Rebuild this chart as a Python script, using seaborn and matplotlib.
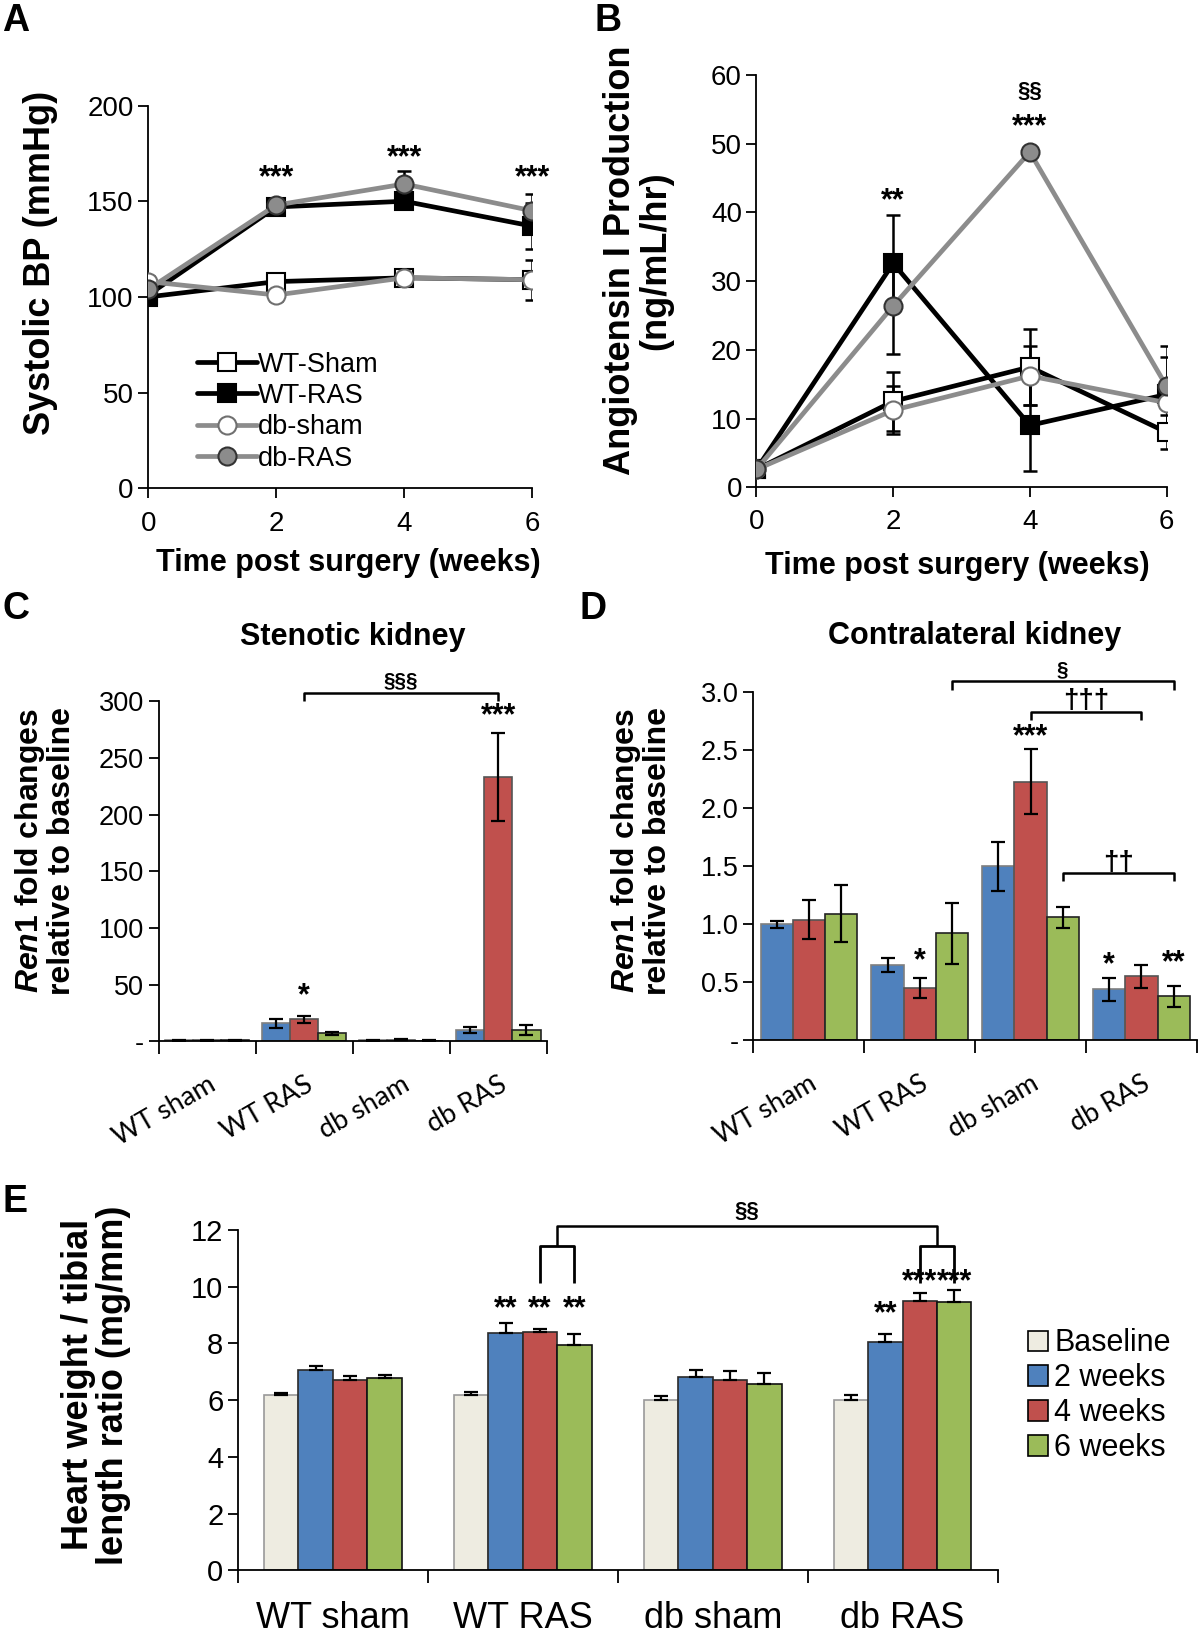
import numpy as np
import pandas as pd
import matplotlib
matplotlib.use('Agg')
import matplotlib.pyplot as plt
import seaborn as sns
from matplotlib.lines import Line2D

sns.set_theme(style='ticks')
plt.rcParams['font.family'] = ['Liberation Sans', 'DejaVu Sans']
plt.rcParams['mathtext.fontset'] = 'custom'
plt.rcParams['mathtext.it'] = 'Liberation Sans:italic:bold'
plt.rcParams['mathtext.rm'] = 'Liberation Sans:bold'
plt.rcParams['axes.edgecolor'] = 'black'
plt.rcParams['xtick.color'] = 'black'
plt.rcParams['ytick.color'] = 'black'
plt.rcParams['text.color'] = 'black'
plt.rcParams['axes.labelcolor'] = 'black'

# ---- data ----
weeks = [0, 2, 4, 6]
line_names = ['WT-Sham', 'WT-RAS', 'db-sham', 'db-RAS']

# A: systolic BP
bp_wt_sham = [100, 108, 110, 109]
bp_wt_sham_err = [2, 3, 3, 10.5]
bp_wt_ras = [101, 147, 150, 137]
bp_wt_ras_err = [2, 3, 3, 12]
bp_db_sham = [108, 101, 110, 109]
bp_db_sham_err = [3, 3, 2, 3]
bp_db_ras = [104, 148, 159, 145]
bp_db_ras_err = [2, 2, 7, 9]

# B: angiotensin I production
ang_wt_sham = [2.6, 12.5, 17.5, 8.0]
ang_wt_sham_err = [0.3, 4.3, 5.5, 2.5]
ang_wt_ras = [2.6, 32.6, 9.0, 13.5]
ang_wt_ras_err = [0.3, 7.0, 6.7, 5.5]
ang_db_sham = [2.6, 11.2, 16.2, 12.3]
ang_db_sham_err = [0.3, 3.5, 4.3, 3.0]
ang_db_ras = [2.6, 26.4, 48.8, 14.7]
ang_db_ras_err = [0.3, 7.0, 0.5, 5.8]

groups = ['WT sham', 'WT RAS', 'db sham', 'db RAS']
times3 = ['2 weeks', '4 weeks', '6 weeks']
times4 = ['Baseline', '2 weeks', '4 weeks', '6 weeks']

# C: stenotic kidney Ren1
c_2w = [1.0, 16.0, 1.0, 10.0]
c_2w_err = [0.3, 4.0, 0.3, 3.0]
c_4w = [1.0, 19.5, 1.5, 233.0]
c_4w_err = [0.3, 3.0, 0.5, 39.0]
c_6w = [1.0, 7.0, 0.7, 10.0]
c_6w_err = [0.3, 1.5, 0.3, 4.0]

# D: contralateral kidney Ren1
d_2w = [1.0, 0.65, 1.50, 0.44]
d_2w_err = [0.03, 0.06, 0.21, 0.10]
d_4w = [1.04, 0.45, 2.23, 0.55]
d_4w_err = [0.165, 0.085, 0.28, 0.10]
d_6w = [1.09, 0.92, 1.06, 0.38]
d_6w_err = [0.245, 0.26, 0.09, 0.09]

# E: heart weight / tibial length
e_base = [6.17, 6.17, 6.00, 6.00]
e_base_err = [0.10, 0.12, 0.15, 0.18]
e_2w = [7.08, 8.37, 6.82, 8.05]
e_2w_err = [0.12, 0.35, 0.23, 0.28]
e_4w = [6.70, 8.40, 6.70, 9.50]
e_4w_err = [0.14, 0.11, 0.33, 0.28]
e_6w = [6.77, 7.95, 6.58, 9.45]
e_6w_err = [0.13, 0.38, 0.38, 0.45]

BASE = '#EEECE1'
BLUE = '#4F81BD'
RED = '#C0504D'
GREEN = '#9BBB59'
GRAY = '#8c8c8c'

fig = plt.figure(figsize=(12, 16.36), dpi=100)

axA = fig.add_axes([0.1235, 0.7015, 0.32, 0.234])
axB = fig.add_axes([0.6304, 0.7022, 0.3417, 0.2519])
axC = fig.add_axes([0.1322, 0.3635, 0.3235, 0.2079])
axD = fig.add_axes([0.6278, 0.3642, 0.3696, 0.2127])
axE = fig.add_axes([0.1983, 0.0402, 0.633, 0.2079])

line_styles = {
    'WT-Sham': dict(color='black', marker='s', mfc='white', mec='black'),
    'WT-RAS': dict(color='black', marker='s', mfc='black', mec='black'),
    'db-sham': dict(color=GRAY, marker='o', mfc='white', mec='#707070'),
    'db-RAS': dict(color=GRAY, marker='o', mfc=GRAY, mec='#333333'),
}

STAR = dict(ha='center', va='center', fontsize=22, fontweight='bold')


def line_panel(ax, series, errs):
    for name, vals, err in zip(line_names, series, errs):
        st = line_styles[name]
        ax.errorbar(weeks, vals, yerr=err, fmt='none', ecolor='black',
                    elinewidth=1.8, capsize=5, capthick=1.8, zorder=2)
        sns.lineplot(x=weeks, y=vals, ax=ax, color=st['color'], lw=3.4,
                     marker=st['marker'], markersize=13, mfc=st['mfc'],
                     mec=st['mec'], mew=1.5, zorder=3, label=name, legend=False)
    ax.set_xlim(0, 6)
    ax.set_xticks(weeks)
    sns.despine(ax=ax)
    for s in ['left', 'bottom']:
        ax.spines[s].set_linewidth(1.3)
    ax.tick_params(axis='both', direction='out', length=7, width=1.3,
                   labelsize=20)
    ax.tick_params(axis='x', pad=9)


# ---- A ----
line_panel(axA, [bp_wt_sham, bp_wt_ras, bp_db_sham, bp_db_ras],
           [bp_wt_sham_err, bp_wt_ras_err, bp_db_sham_err, bp_db_ras_err])
axA.set_ylim(0, 200)
axA.set_yticks([0, 50, 100, 150, 200])
axA.set_ylabel('Systolic BP (mmHg)', fontsize=26, fontweight='bold')
axA.yaxis.set_label_coords(-0.236, 0.59)
axA.set_xlabel('Time post surgery (weeks)', fontsize=22, fontweight='bold')
axA.xaxis.set_label_coords(0.52, -0.155)
for x, y in [(2, 162), (4, 172.5), (6, 162)]:
    axA.text(x, y, '***', **STAR)
handles = [Line2D([], [], lw=3.4, markersize=13, mew=1.5, **line_styles[n]) for n in line_names]
axA.legend(handles, line_names, loc='lower left', bbox_to_anchor=(0.1, 0.015),
           frameon=False, fontsize=19.5, handlelength=2.2, handletextpad=0.05,
           labelspacing=0.2, borderaxespad=0)

# ---- B ----
line_panel(axB, [ang_wt_sham, ang_wt_ras, ang_db_sham, ang_db_ras],
           [ang_wt_sham_err, ang_wt_ras_err, ang_db_sham_err, ang_db_ras_err])
axB.set_ylim(0, 60)
axB.set_yticks(range(0, 61, 10))
axB.set_ylabel('Angiotensin I Production\n(ng/mL/hr)', fontsize=26,
               fontweight='bold', linespacing=1.0)
axB.yaxis.set_label_coords(-0.204, 0.55)
axB.set_xlabel('Time post surgery (weeks)', fontsize=22, fontweight='bold')
axB.xaxis.set_label_coords(0.49, -0.154)
axB.text(2, 41.6, '**', **STAR)
axB.text(4, 52.4, '***', **STAR)
axB.text(4, 57.6, '§§', ha='center', va='center', fontsize=16, fontweight='bold')


def bar_panel(ax, means, errs, hues, colors, edges, width, one_sided, legend):
    rows = []
    for h, vals in zip(hues, means):
        for g, v in zip(groups, vals):
            rows.append({'group': g, 'time': h, 'value': v})
    df = pd.DataFrame(rows)
    sns.barplot(data=df, x='group', y='value', hue='time', order=groups,
                hue_order=hues, palette=colors, errorbar=None, width=width,
                saturation=1, linewidth=1.2, edgecolor='black', ax=ax,
                legend=legend)
    for cont, err, ec in zip(ax.containers, errs, edges):
        xs = [p.get_x() + p.get_width() / 2 for p in cont]
        ys = [p.get_height() for p in cont]
        for p in cont:
            p.set_edgecolor(ec)
        yerr = [np.zeros(len(err)), err] if one_sided else err
        ax.errorbar(xs, ys, yerr=yerr, fmt='none', ecolor='black',
                    elinewidth=1.6, capsize=5, capthick=1.6, zorder=4)
    ax.set_xlim(-0.5, 3.5)
    ax.set_xlabel('')
    sns.despine(ax=ax)
    for s in ['left', 'bottom']:
        ax.spines[s].set_linewidth(1.3)
    ax.set_xticks(range(4))
    ax.set_xticks(np.arange(-0.5, 4, 1), minor=True)
    ax.tick_params(axis='x', which='major', length=0)
    ax.tick_params(axis='x', which='minor', length=9, width=1.3, direction='out')
    ax.tick_params(axis='y', direction='out', length=7, width=1.3)


def bracket(ax, x1, x2, y_top, y_low, lw=1.8):
    ax.plot([x1, x1, x2, x2], [y_low, y_top, y_top, y_low], color='black',
            lw=lw, clip_on=False, solid_capstyle='butt')


ren_label = '$\\mathit{Ren1}$ fold changes\nrelative to baseline'
off = 0.87 / 3

# ---- C ----
bar_panel(axC, [c_2w, c_4w, c_6w], [c_2w_err, c_4w_err, c_6w_err], times3,
          [BLUE, RED, GREEN], ['#7f7f7f', '#555555', '#222222'], 0.87, False, False)
axC.set_ylim(0, 300)
axC.set_yticks(range(0, 301, 50))
axC.set_yticklabels(['-', '50', '100', '150', '200', '250', '300'], fontsize=19.5)
axC.set_xticklabels(groups, rotation=30, ha='right', rotation_mode='anchor',
                    fontsize=19.5, family=['Lato', 'DejaVu Sans'])
axC.tick_params(axis='x', which='major', pad=22)
axC.set_ylabel(ren_label, fontsize=23, fontweight='bold', linespacing=1.0)
axC.yaxis.set_label_coords(-0.21, 0.56)
axC.set_title('Stenotic kidney', fontsize=22, fontweight='bold', y=1.14)
axC.text(1, 40, '*', **STAR)
axC.text(3, 287, '***', **STAR)
bracket(axC, 1, 3, 307, 300)
axC.text(2, 318, '§§§', ha='center', va='center', fontsize=15, fontweight='bold')

# ---- D ----
bar_panel(axD, [d_2w, d_4w, d_6w], [d_2w_err, d_4w_err, d_6w_err], times3,
          [BLUE, RED, GREEN], ['#7f7f7f', '#555555', '#222222'], 0.87, False, False)
axD.set_ylim(0, 3)
axD.set_yticks(np.arange(0, 3.01, 0.5))
axD.set_yticklabels(['-', '0.5', '1.0', '1.5', '2.0', '2.5', '3.0'], fontsize=19.5)
axD.set_xticklabels(groups, rotation=30, ha='right', rotation_mode='anchor',
                    fontsize=19.5, family=['Lato', 'DejaVu Sans'])
axD.tick_params(axis='x', which='major', pad=22)
axD.set_ylabel(ren_label, fontsize=23, fontweight='bold', linespacing=1.0)
axD.yaxis.set_label_coords(-0.181, 0.545)
axD.set_title('Contralateral kidney', fontsize=22, fontweight='bold', y=1.115)
axD.text(1, 0.68, '*', **STAR)
axD.text(2, 2.61, '***', **STAR)
axD.text(3 - off, 0.65, '*', **STAR)
axD.text(3 + off, 0.66, '**', **STAR)
bracket(axD, 1 + off, 3 + off, 3.1, 3.02)
axD.text(2 + off, 3.19, '§', ha='center', va='center', fontsize=15, fontweight='bold')
bracket(axD, 2, 3, 2.83, 2.76)
axD.text(2.5, 2.92, '†††', ha='center', va='center', fontsize=20, fontweight='bold')
bracket(axD, 2 + off, 3 + off, 1.44, 1.37)
axD.text(2.5 + off, 1.53, '††', ha='center', va='center', fontsize=20, fontweight='bold')

# ---- E ----
bar_panel(axE, [e_base, e_2w, e_4w, e_6w],
          [e_base_err, e_2w_err, e_4w_err, e_6w_err], times4,
          [BASE, BLUE, RED, GREEN], ['#999999', '#2a2a2a', '#2a2a2a', '#111111'],
          0.725, True, True)
axE.set_ylim(0, 12)
axE.set_yticks(range(0, 13, 2))
axE.tick_params(axis='y', labelsize=21)
axE.set_xticklabels(groups, fontsize=26)
axE.tick_params(axis='x', which='major', pad=22)
axE.set_ylabel('Heart weight / tibial\nlength ratio (mg/mm)', fontsize=26,
               fontweight='bold', linespacing=1.0)
axE.yaxis.set_label_coords(-0.141, 0.545)
w4 = 0.725 / 4
p4 = 0.5 * w4
p6 = 1.5 * w4
for x in [1 - p4, 1 + p4, 1 + p6]:
    axE.text(x, 9.2, '**', **STAR)
axE.text(3 - p4, 9.02, '**', **STAR)
for x in [3 + p4, 3 + p6]:
    axE.text(x, 10.15, '***', **STAR)
bracket(axE, 1 + p4, 1 + p6, 11.45, 10.15, lw=2)
bracket(axE, 3 + p4, 3 + p6, 11.45, 10.15, lw=2)
bracket(axE, 1 + w4, 3 + w4, 12.15, 11.45)
axE.text(2 + w4, 12.65, '§§', ha='center', va='center', fontsize=16, fontweight='bold')
axE.legend(loc='upper left', bbox_to_anchor=(0.857, 0.188),
           bbox_transform=fig.transFigure, frameon=False, fontsize=22,
           handlelength=0.65, handleheight=0.65, handletextpad=0.2,
           labelspacing=0.16, borderaxespad=0, borderpad=0, title=None)

# panel letters
for letter, x, y in [('A', 0.002, 0.987), ('B', 0.4957, 0.987),
                     ('C', 0.002, 0.6276), ('D', 0.4826, 0.6276),
                     ('E', 0.002, 0.2653)]:
    fig.text(x, y, letter, fontsize=27, fontweight='bold', ha='left', va='center')

fig.savefig('out.png', dpi=100)
